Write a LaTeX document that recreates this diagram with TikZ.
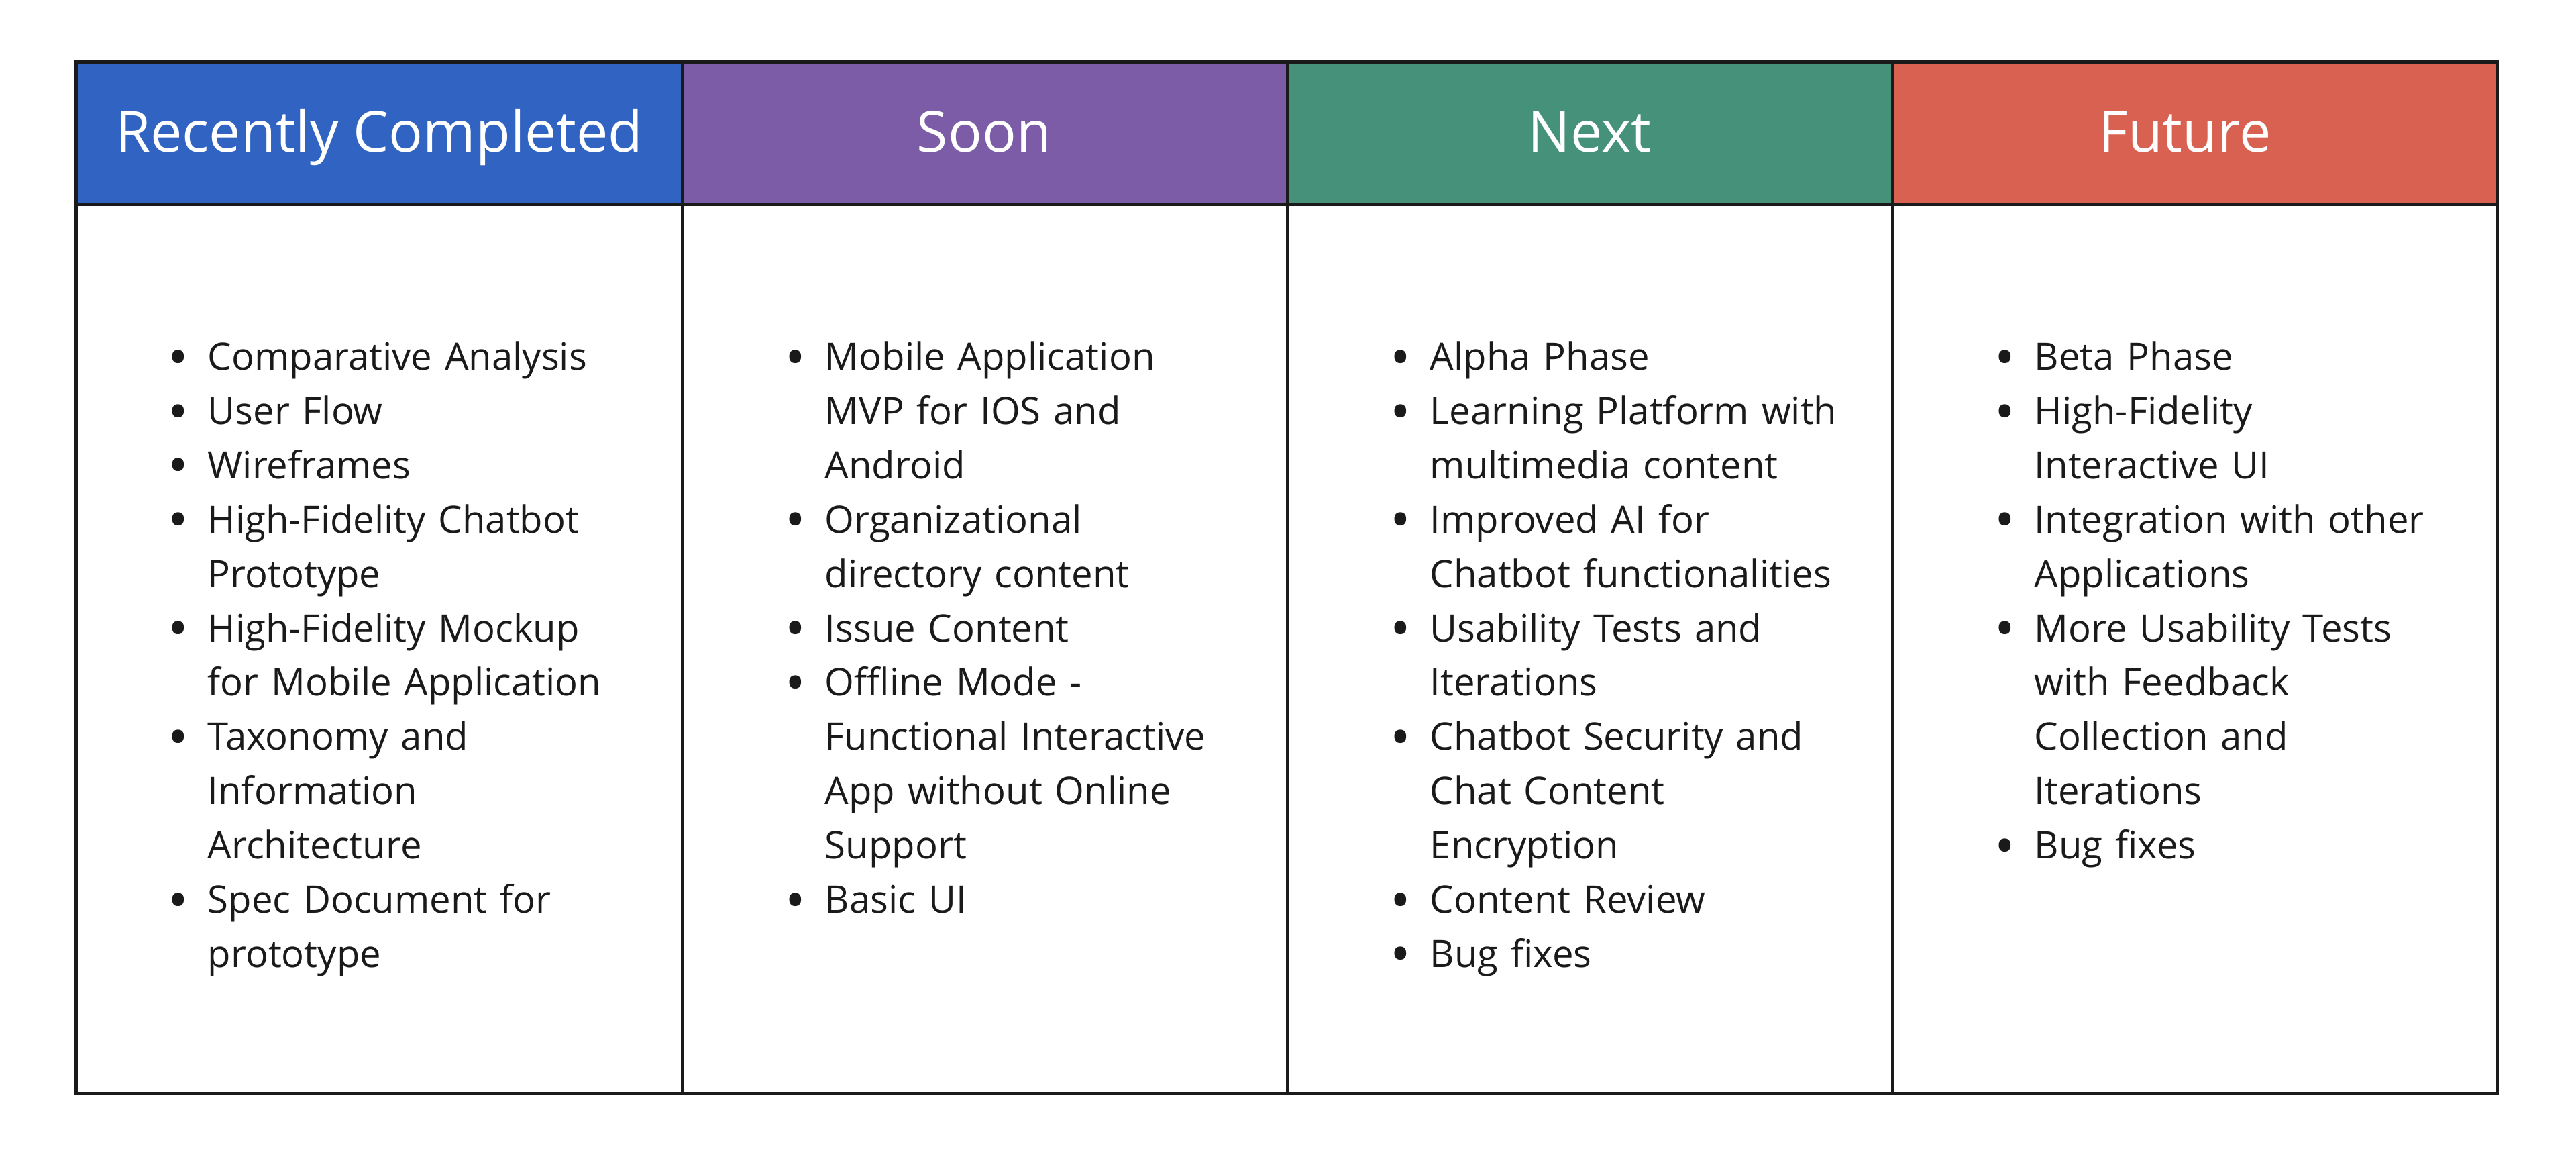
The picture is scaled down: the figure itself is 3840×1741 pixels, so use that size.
\documentclass[tikz,border=0pt]{standalone}
\usepackage{fontspec}
\setmainfont{Open Sans}
\usetikzlibrary{positioning}
\definecolor{doneblue}{RGB}{49,100,194}
\definecolor{soonpurple}{RGB}{124,92,167}
\definecolor{nextgreen}{RGB}{69,145,121}
\definecolor{futurered}{RGB}{217,97,81}
\definecolor{inkgray}{RGB}{26,26,26}
\def\roaddot{\hspace*{-0.04cm}\raisebox{-0.17em}{\scalebox{1.45}{\textbullet}}}
\newenvironment{roadlist}{\begin{list}{\roaddot}{\setlength{\leftmargin}{0.55cm}\setlength{\labelwidth}{0.55cm}\setlength{\labelsep}{0pt}\setlength{\itemsep}{0pt}\setlength{\parsep}{0pt}\setlength{\topsep}{0pt}\setlength{\partopsep}{0pt}\renewcommand{\makelabel}[1]{##1\hfil}}}{\end{list}}
\tikzset{
	headbox/.style={minimum width=9.02cm, minimum height=2.11cm, inner sep=0pt, text height=0.70cm, text depth=0.14cm, text=white, font=\fontsize{24}{30}\selectfont},
	listbox/.style={anchor=north west, inner sep=0pt, text width=7.6cm, align=left, text=inkgray, font=\fontsize{16}{23}\selectfont},
	gridline/.style={line width=1.35pt, color=inkgray}
}

\begin{document}
\begin{tikzpicture}[x=0.01cm, y=-0.01cm]
			%%%%% START %%%%%
			\useasboundingbox (0, 0) rectangle (3840, 1741);
			
			\node[headbox, fill=doneblue] (donehead) at (565.5, 198.5) {Recently Completed};
			\node[headbox, fill=soonpurple] (soonhead) at (1467, 198.5) {Soon};
			\node[headbox, fill=nextgreen] (nexthead) at (2369.5, 198.5) {Next};
			\node[headbox, fill=futurered] (futurehead) at (3272, 198.5) {\hspace*{-0.3cm}Future};
			
			\node[listbox] (donelist) at (254, 470) {\begin{roadlist}
				\item Comparative Analysis
				\item User Flow
				\item Wireframes
				\item High-Fidelity Chatbot\\ Prototype
				\item High-Fidelity Mockup\\ for Mobile Application
				\item Taxonomy and\\ Information\\ Architecture
				\item Spec Document for\\ prototype
			\end{roadlist}};
			
			\node[listbox] (soonlist) at (1174, 470) {\begin{roadlist}
				\item Mobile Application\\ MVP for IOS and\\ Android
				\item Organizational\\ directory content
				\item Issue Content
				\item Offline Mode -\\ Functional Interactive\\ App without Online\\ Support
				\item Basic UI
			\end{roadlist}};
			
			\node[listbox] (nextlist) at (2076, 470) {\begin{roadlist}
				\item Alpha Phase
				\item Learning Platform with\\ multimedia content
				\item Improved AI for\\ Chatbot functionalities
				\item Usability Tests and\\ Iterations
				\item Chatbot Security and\\ Chat Content\\ Encryption
				\item Content Review
				\item Bug fixes
			\end{roadlist}};
			
			\node[listbox] (futurelist) at (2977, 470) {\begin{roadlist}
				\item Beta Phase
				\item High-Fidelity\\ Interactive UI
				\item Integration with other\\ Applications
				\item More Usability Tests\\ with Feedback\\ Collection and\\ Iterations
				\item Bug fixes
			\end{roadlist}};
			
			% frame and column rules
			\draw[gridline] (donehead.north west) rectangle (3723, 1629);
			\draw[gridline] (donehead.south west) -- (futurehead.south east);
			\draw[gridline] (donehead.north east) -- (donehead.east |- 0, 1629);
			\draw[gridline] (soonhead.north east) -- (soonhead.east |- 0, 1629);
			\draw[gridline] (nexthead.north east) -- (nexthead.east |- 0, 1629);
			%%%%% END %%%%%
		\end{tikzpicture}
\end{document}
